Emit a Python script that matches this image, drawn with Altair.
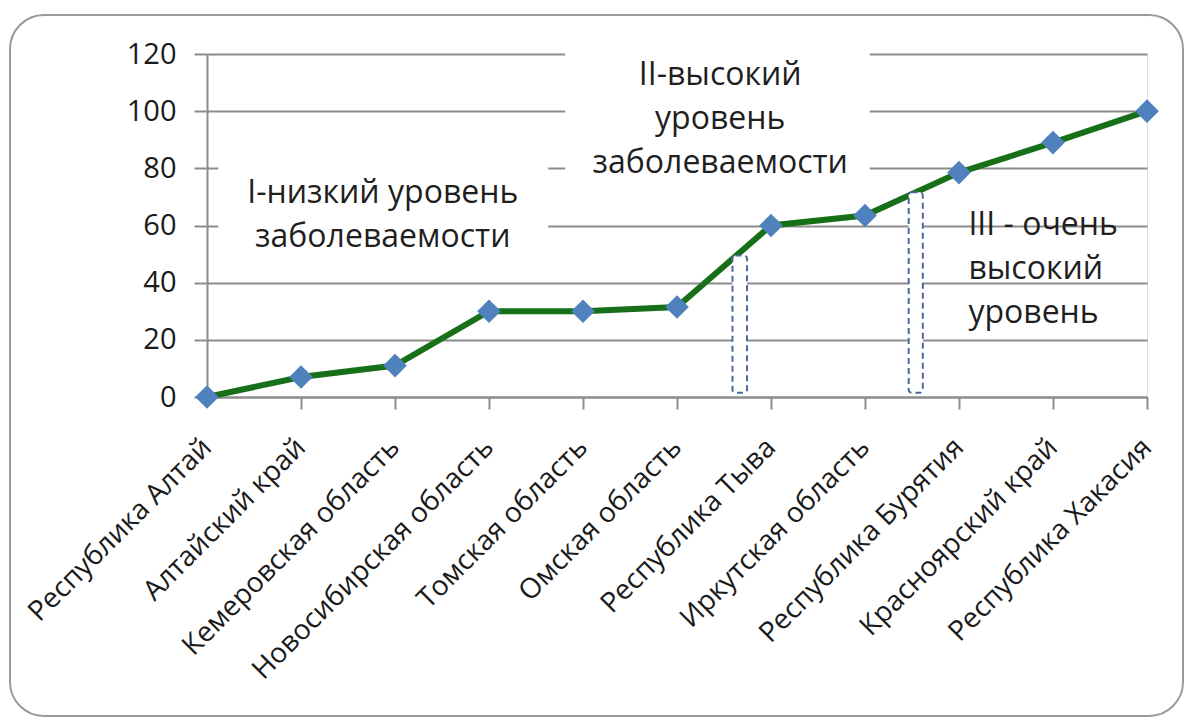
import altair as alt
import pandas as pd

# Incidence index by region of Siberia
regions = [
    "Республика Алтай", "Алтайский край", "Кемеровская область",
    "Новосибирская область", "Томская область", "Омская область",
    "Республика Тыва", "Иркутская область", "Республика Бурятия",
    "Красноярский край", "Республика Хакасия",
]
values = [0, 7, 11, 30, 30, 31.5, 60, 63.5, 78.5, 89, 100]
y_ticks = [0, 20, 40, 60, 80, 100, 120]

# Level boundaries (dashed markers between groups)
bound_x0 = [5.59, 7.465]
bound_x1 = [5.745, 7.615]
bound_top = [49.5, 71.6]
bound_bottom = [1.5, 1.5]

# Level captions (y is the first line of each caption)
caption_text = [
    "I-низкий уровень\nзаболеваемости",
    "II-высокий\nуровень\nзаболеваемости",
    "III - очень\nвысокий\nуровень",
]
caption_x = [1.87, 5.46, 8.10]
caption_y = [71.4, 112.7, 60.2]
caption_align = ["center", "center", "left"]

# White backing behind the first two captions
backing_x0 = [0.12, 3.81]
backing_x1 = [3.63, 7.05]
backing_y0 = [45, 70]
backing_y1 = [88, 121.5]

FONT = "Open Sans"
W, H = 940, 343
PAD_L, PAD_T = 207, 54

df = pd.DataFrame({"idx": list(range(len(regions))), "region": regions, "value": values})
bounds = pd.DataFrame({"x0": bound_x0, "x1": bound_x1, "y0": bound_bottom, "y1": bound_top})
captions = pd.DataFrame({"text": caption_text, "x": caption_x, "y": caption_y, "align": caption_align})
backing = pd.DataFrame({"x0": backing_x0, "x1": backing_x1, "y0": backing_y0, "y1": backing_y1})

label_expr = "[" + ",".join(f"'{r}'" for r in regions) + "][datum.value]"

x_scale = alt.Scale(domain=[0, len(regions) - 1], nice=False, zero=False)
y_scale = alt.Scale(domain=[0, 120], nice=False)

x_axis = alt.Axis(
    values=list(range(len(regions))), labelExpr=label_expr, title=None,
    labelAngle=-45, labelAlign="right", labelBaseline="middle",
    labelPadding=34, labelLimit=0, tickSize=12, tickWidth=2,
    tickColor={"condition": {"test": "datum.value == 0", "value": "transparent"},
               "value": "#8c8c8c"},
    domainColor="#8c8c8c", domainWidth=2, grid=False,
    labelFont=FONT, labelFontSize=28, labelColor="#1a1a1a", labelOverlap=False,
)
y_axis = alt.Axis(
    values=y_ticks, title=None, tickSize=13, tickWidth=2, tickColor="#8c8c8c",
    domainColor="#8c8c8c", domainWidth=2, grid=True, gridColor="#8c8c8c",
    gridWidth=2, labelPadding=18, labelFont=FONT, labelFontSize=29,
    labelColor="#1a1a1a",
)

frame = alt.Chart(pd.DataFrame({"k": [0]})).mark_rect(
    fill="transparent", stroke="#9a9a9a", strokeWidth=2, cornerRadius=34
).encode(
    x=alt.value(10 - PAD_L), x2=alt.value(1183 - PAD_L),
    y=alt.value(15 - PAD_T), y2=alt.value(716 - PAD_T),
)

axes = alt.Chart(df).mark_point(opacity=0).encode(
    x=alt.X("idx:Q", scale=x_scale, axis=x_axis),
    y=alt.Y("value:Q", scale=y_scale, axis=y_axis),
)

backs = alt.Chart(backing).mark_rect(fill="white").encode(
    x=alt.X("x0:Q", scale=x_scale), x2="x1:Q",
    y=alt.Y("y0:Q", scale=y_scale), y2="y1:Q",
)

line = alt.Chart(df).mark_line(color="#177017", strokeWidth=6).encode(
    x=alt.X("idx:Q", scale=x_scale),
    y=alt.Y("value:Q", scale=y_scale),
)

bound_rects = alt.Chart(bounds).mark_rect(
    fill="white", stroke="#4a6b9a", strokeWidth=2, strokeDash=[6, 4], cornerRadius=3
).encode(
    x=alt.X("x0:Q", scale=x_scale), x2="x1:Q",
    y=alt.Y("y0:Q", scale=y_scale), y2="y1:Q",
)

points = alt.Chart(df).mark_point(
    shape="diamond", filled=True, size=560, color="#4f81bd", opacity=1
).encode(
    x=alt.X("idx:Q", scale=x_scale),
    y=alt.Y("value:Q", scale=y_scale),
)

cap_layers = []
for align in ["center", "left"]:
    cap_layers.append(
        alt.Chart(captions[captions["align"] == align]).mark_text(
            font=FONT, fontSize=32, color="#1f1f1f", align=align,
            baseline="middle", lineBreak="\n", lineHeight=44,
        ).encode(
            x=alt.X("x:Q", scale=x_scale),
            y=alt.Y("y:Q", scale=y_scale),
            text="text:N",
        )
    )

chart = alt.layer(
    frame, axes, backs, line, bound_rects, points, *cap_layers
).properties(
    width=W, height=H,
    autosize=alt.AutoSizeParams(type="none"),
    padding={"left": PAD_L, "top": PAD_T, "right": 1187 - PAD_L - W, "bottom": 720 - PAD_T - H},
).configure_view(stroke=None).configure(background="white")

chart.save("out.html", embed_options={"renderer": "svg", "actions": False})
